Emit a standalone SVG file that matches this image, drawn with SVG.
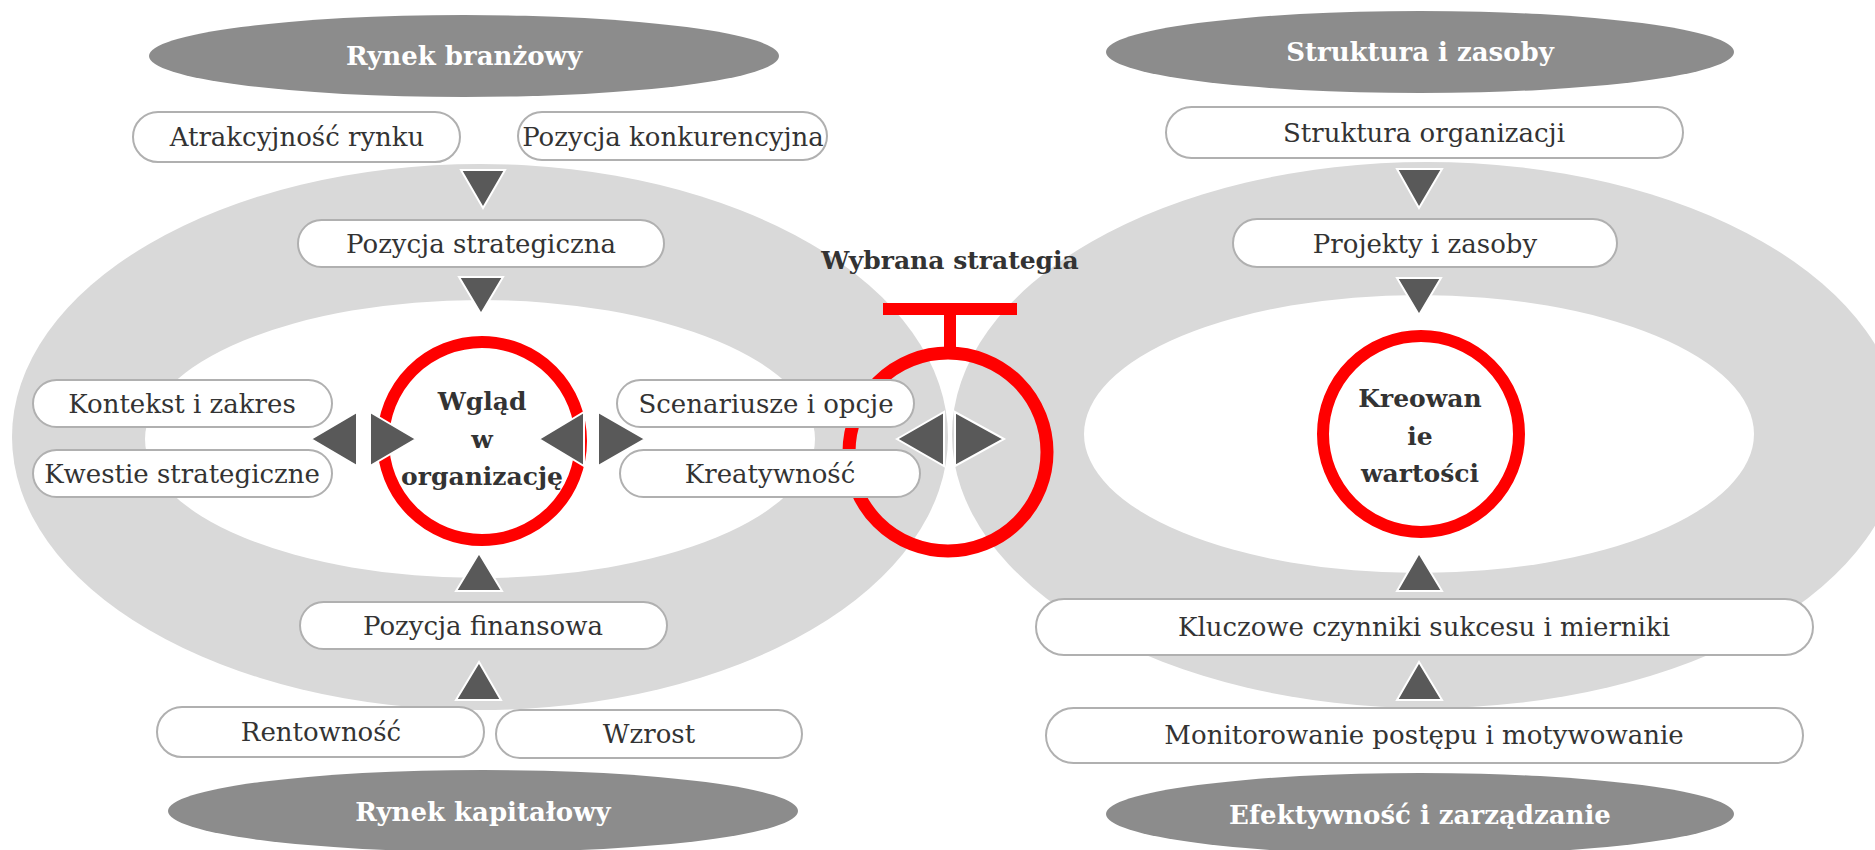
<svg xmlns="http://www.w3.org/2000/svg" width="1875" height="850" viewBox="0 0 1875 850">
<style>
.ring{fill:#d9d9d9}
.inner{fill:#ffffff}
.red{fill:none;stroke:#ff0000;stroke-width:12}
.head{fill:#8c8c8c}
.headt{font-family:"DejaVu Serif","Liberation Serif",serif;font-size:26px;font-weight:bold;fill:#ffffff;text-anchor:middle}
.box{fill:#ffffff;stroke:#b0b0b0;stroke-width:2}
.bt{font-family:"DejaVu Serif","Liberation Serif",serif;font-size:26px;fill:#333333;text-anchor:middle}
.ct{font-family:"DejaVu Serif","Liberation Serif",serif;font-size:25px;font-weight:bold;fill:#333333;text-anchor:middle}
.arr{fill:#595959;stroke:#ffffff;stroke-width:2;stroke-linejoin:miter}
</style>
<rect width="1875" height="850" fill="#ffffff"/>
<g id="background">
<ellipse class="ring" cx="480" cy="437" rx="468" ry="273"/>
<ellipse class="ring" cx="1427" cy="435" rx="475" ry="273"/>
<ellipse class="inner" cx="480" cy="439" rx="335" ry="139"/>
<ellipse class="inner" cx="1419" cy="434" rx="335" ry="139"/>
</g>
<g id="rynek-branzowy"><ellipse class="head" cx="464" cy="56" rx="315" ry="41"/><text class="headt" x="464" y="65">Rynek branżowy</text></g>
<g id="struktura-i-zasoby"><ellipse class="head" cx="1420" cy="52" rx="314" ry="41"/><text class="headt" x="1420" y="61">Struktura i zasoby</text></g>
<g id="rynek-kapitalowy"><ellipse class="head" cx="483" cy="811" rx="315" ry="41"/><text class="headt" x="483" y="821">Rynek kapitałowy</text></g>
<g id="efektywnosc"><ellipse class="head" cx="1420" cy="814" rx="314" ry="41"/><text class="headt" x="1420" y="824">Efektywność i zarządzanie</text></g>
<g id="wglad"><circle class="red" cx="482" cy="441" r="99"/><text class="ct" x="482" y="410">Wgląd</text><text class="ct" x="482" y="448">w</text><text class="ct" x="482" y="485">organizację</text></g>
<g id="kreowanie"><circle class="red" cx="1421" cy="434" r="98"/><text class="ct" x="1420" y="407">Kreowan</text><text class="ct" x="1420" y="445">ie</text><text class="ct" x="1420" y="482">wartości</text></g>
<g id="wybrana-strategia"><circle class="red" cx="948" cy="452" r="99" style="stroke-width:13"/><rect x="883" y="303" width="134" height="12" fill="#ff0000"/><rect x="944" y="314" width="12" height="35" fill="#ff0000"/><text class="ct" x="950" y="269">Wybrana strategia</text></g>
<g id="atrakcyjnosc"><rect class="box" x="133" y="112" width="327" height="50" rx="25"/><text class="bt" x="297" y="146">Atrakcyjność rynku</text></g>
<g id="pozycja-konkurencyjna"><rect class="box" x="518" y="112" width="309" height="48" rx="24"/><text class="bt" x="673" y="146">Pozycja konkurencyjna</text></g>
<g id="pozycja-strategiczna"><rect class="box" x="298" y="220" width="366" height="47" rx="23.5"/><text class="bt" x="481" y="253">Pozycja strategiczna</text></g>
<g id="kontekst"><rect class="box" x="33" y="380" width="299" height="47" rx="23.5"/><text class="bt" x="182" y="413">Kontekst i zakres</text></g>
<g id="kwestie"><rect class="box" x="33" y="450" width="299" height="47" rx="23.5"/><text class="bt" x="182" y="483">Kwestie strategiczne</text></g>
<g id="scenariusze"><rect class="box" x="617" y="380" width="297" height="47" rx="23.5"/><text class="bt" x="766" y="413">Scenariusze i opcje</text></g>
<g id="kreatywnosc"><rect class="box" x="620" y="450" width="300" height="47" rx="23.5"/><text class="bt" x="770" y="483">Kreatywność</text></g>
<g id="pozycja-finansowa"><rect class="box" x="300" y="602" width="367" height="47" rx="23.5"/><text class="bt" x="483" y="635">Pozycja finansowa</text></g>
<g id="rentownosc"><rect class="box" x="157" y="707" width="327" height="50" rx="25"/><text class="bt" x="321" y="741">Rentowność</text></g>
<g id="wzrost"><rect class="box" x="496" y="710" width="306" height="48" rx="24"/><text class="bt" x="649" y="743">Wzrost</text></g>
<g id="struktura-organizacji"><rect class="box" x="1166" y="107" width="517" height="51" rx="25.5"/><text class="bt" x="1424" y="142">Struktura organizacji</text></g>
<g id="projekty"><rect class="box" x="1233" y="219" width="384" height="48" rx="24"/><text class="bt" x="1425" y="253">Projekty i zasoby</text></g>
<g id="kluczowe"><rect class="box" x="1036" y="599" width="777" height="56" rx="28"/><text class="bt" x="1424" y="636">Kluczowe czynniki sukcesu i mierniki</text></g>
<g id="monitorowanie"><rect class="box" x="1046" y="708" width="757" height="55" rx="27.5"/><text class="bt" x="1424" y="744">Monitorowanie postępu i motywowanie</text></g>
<g id="connectors">
<polygon class="arr" points="461,170 505,170 483,208"/>
<polygon class="arr" points="459,277 503,277 481,314"/>
<polygon class="arr" points="1397,169 1442,169 1419,208"/>
<polygon class="arr" points="1397,278 1441,278 1419,315"/>
<polygon class="arr" points="479,553 502,591 456,591"/>
<polygon class="arr" points="479,662 501,700 456,700"/>
<polygon class="arr" points="1419,553 1442,591 1397,591"/>
<polygon class="arr" points="1419,662 1442,700 1397,700"/>
<polygon class="arr" points="311,439 357,412 357,466"/>
<polygon class="arr" points="416,439 370,412 370,466"/>
<polygon class="arr" points="539,439 584,412 584,466"/>
<polygon class="arr" points="645,439 598,412 598,466"/>
<polygon class="arr" points="897,439 944,412 944,466"/>
<polygon class="arr" points="1004,439 955,412 955,466"/>
</g>
</svg>
